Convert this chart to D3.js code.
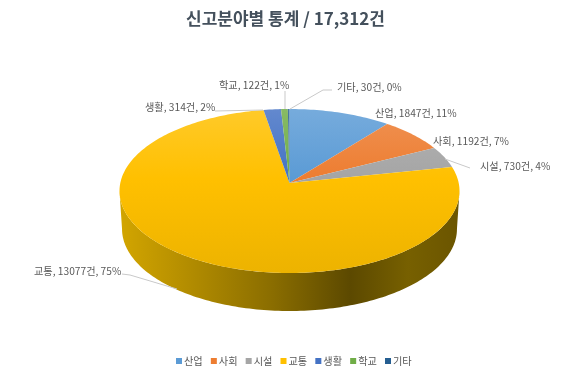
<!DOCTYPE html>
<html>
<head>
<meta charset="utf-8">
<script src="https://cdn.jsdelivr.net/npm/d3@7"></script>
<style>
  html, body { margin: 0; padding: 0; background: #fff; }
  text { font-family: "Noto Sans CJK KR", "Noto Sans", sans-serif; }
  /* the reference is a soft, rescaled image */
  #chart { display: block; filter: blur(0.35px); }
</style>
</head>
<body>
<svg id="chart" width="580" height="372"></svg>
<script>
// data
const categories = ["산업", "사회", "시설", "교통", "생활", "학교", "기타"];
const counts = [1847, 1192, 730, 13077, 314, 122, 30];
const percents = [11, 7, 4, 75, 2, 1, 0];
const colors = ["#5B9BD5", "#ED7D31", "#A5A5A5", "#FFC000", "#4472C4", "#70AD47", "#255E91"];
const titleText = "신고분야별 통계 / 17,312건";

// where each label sits, same order as categories (x, baseline y)
const labelSpots = [
  [375, 117], [433, 145], [480, 170], [34, 275],
  [145, 111], [219, 89], [337, 91]
];

const svg = d3.select("#chart");
const defs = svg.append("defs");

// pie is drawn tilted with some perspective, the far side is squeezed
const cx = 289.5, cy = 183, radiusX = 169.2, radiusY = 81.2, persp = 0.0976;
const depth = 38, bottomShrink = 0.985;

function project(angle) {
  const u = Math.sin(angle), v = Math.cos(angle);
  const w = 1 + persp * v;
  return [cx + radiusX * u / w, cy - radiusY * v / w];
}
function projectBottom(angle) {
  const p = project(angle);
  return [cx + (p[0] - cx) * bottomShrink, p[1] + depth];
}

const pie = d3.pie().sort(null).value(d => d);
const arcs = pie(counts);
const line = d3.line();

function rimAngles(start, end) {
  const steps = Math.max(2, Math.ceil((end - start) / 0.02));
  return d3.range(steps + 1).map(i => start + (end - start) * i / steps);
}

// the wall only shows between the widest points of the rim
const frontStart = Math.acos(-persp);
const frontEnd = 2 * Math.PI - frontStart;
const wallArcs = arcs
  .map(a => ({ start: Math.max(a.startAngle, frontStart), end: Math.min(a.endAngle, frontEnd) }))
  .filter(a => a.end > a.start);

// gradients
const topGrad = defs.selectAll("linearGradient.top")
  .data(colors)
  .enter()
  .append("linearGradient")
  .attr("class", "top")
  .attr("id", (d, i) => "top" + i)
  .attr("gradientUnits", "userSpaceOnUse")
  .attr("x1", 0).attr("x2", 0)
  .attr("y1", cy - radiusY).attr("y2", cy + radiusY + 8);
topGrad.append("stop").attr("offset", "0%").attr("stop-color", d => d3.interpolateRgb(d, "#fff")(0.18));
topGrad.append("stop").attr("offset", "45%").attr("stop-color", d => d);
topGrad.append("stop").attr("offset", "100%").attr("stop-color", d => d3.interpolateRgb(d, "#000")(0.07));

const wallGrad = defs.append("linearGradient")
  .attr("id", "wall")
  .attr("gradientUnits", "userSpaceOnUse")
  .attr("x1", cx - radiusX).attr("x2", cx + radiusX)
  .attr("y1", 0).attr("y2", 0);
[["0%", "#d2a500"], ["15%", "#bb9300"], ["45%", "#8a6d00"], ["68%", "#5c4900"], ["85%", "#776000"], ["100%", "#6b5500"]]
  .forEach(s => wallGrad.append("stop").attr("offset", s[0]).attr("stop-color", s[1]));

// side wall first, the top face goes over its upper edge
svg.append("g").selectAll("path")
  .data(wallArcs)
  .enter()
  .append("path")
  .attr("d", a => {
    const angles = rimAngles(a.start, a.end);
    return line(angles.map(project).concat(angles.slice().reverse().map(projectBottom))) + "Z";
  })
  .attr("fill", "url(#wall)");

// top face
svg.append("g").selectAll("path")
  .data(arcs)
  .enter()
  .append("path")
  .attr("d", a => line([[cx, cy]].concat(rimAngles(a.startAngle, a.endAngle).map(project))) + "Z")
  .attr("fill", (a, i) => `url(#top${i})`);

// leader lines, as seen in the picture
const leaders = [
  [[445, 159], [470, 168]],
  [[122, 274], [130, 275], [177, 289]],
  [[215, 111], [263, 110]],
  [[285, 91], [285, 109]],
  [[332, 90], [323, 90], [290, 109]]
];
svg.append("g").selectAll("path")
  .data(leaders)
  .enter()
  .append("path")
  .attr("d", d => line(d))
  .attr("fill", "none")
  .attr("stroke", "#c9c9c9")
  .attr("stroke-width", 1);

// data labels
svg.append("g").selectAll("text")
  .data(categories)
  .enter()
  .append("text")
  .attr("x", (d, i) => labelSpots[i][0])
  .attr("y", (d, i) => labelSpots[i][1])
  .attr("font-size", 10.2)
  .attr("fill", "#595959")
  .text((d, i) => `${d}, ${counts[i]}건, ${percents[i]}%`);

// title
svg.append("text")
  .attr("x", 285.5)
  .attr("y", 25)
  .attr("text-anchor", "middle")
  .attr("font-size", 17)
  .attr("font-weight", 700)
  .attr("fill", "#44505c")
  .text(titleText);

// legend
const legendX = d3.scalePoint().domain(categories).range([176, 385]);
const legend = svg.append("g").selectAll("g")
  .data(categories)
  .enter()
  .append("g")
  .attr("transform", d => `translate(${legendX(d)},361)`);
legend.append("rect")
  .attr("y", -3).attr("width", 6).attr("height", 6)
  .attr("fill", (d, i) => colors[i]);
legend.append("text")
  .attr("x", 8)
  .attr("y", 4)
  .attr("font-size", 10.2)
  .attr("fill", "#595959")
  .text(d => d);
</script>
</body>
</html>
